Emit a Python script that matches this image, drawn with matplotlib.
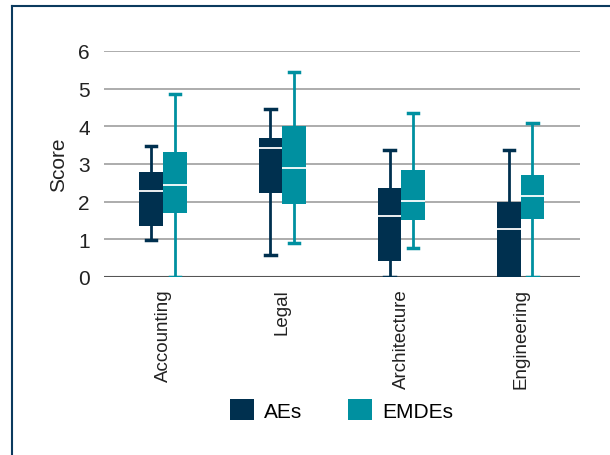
import matplotlib
matplotlib.use("Agg")
import matplotlib.pyplot as plt
from matplotlib.patches import Patch
from matplotlib.lines import Line2D

plt.rcParams['font.family'] = ['Liberation Sans', 'DejaVu Sans']

categories = ["Accounting", "Legal", "Architecture", "Engineering"]
series = ["AEs", "EMDEs"]
colors = {"AEs": "#00304f", "EMDEs": "#0090a0"}

# box stats per category: lower whisker, q1, median, q3, upper whisker
aes_whislo = [0.97, 0.59, 0.0, 0.0]
aes_q1 = [1.35, 2.22, 0.42, 0.0]
aes_med = [2.27, 3.42, 1.61, 1.27]
aes_q3 = [2.78, 3.69, 2.37, 1.99]
aes_whishi = [3.48, 4.47, 3.38, 3.38]

emdes_whislo = [0.0, 0.90, 0.77, 0.0]
emdes_q1 = [1.69, 1.93, 1.52, 1.54]
emdes_med = [2.43, 2.89, 2.03, 2.15]
emdes_q3 = [3.32, 4.01, 2.85, 2.71]
emdes_whishi = [4.86, 5.43, 4.36, 4.10]

yticks = [0, 1, 2, 3, 4, 5, 6]


def make_stats(lo, q1, med, q3, hi):
    return [dict(whislo=a, q1=b, med=c, q3=d, whishi=e, fliers=[])
            for a, b, c, d, e in zip(lo, q1, med, q3, hi)]


fig = plt.figure(figsize=(6.1, 4.56), dpi=100)
ax = fig.add_axes([0.170, 0.3904, 0.781, 0.4956])

groups = [
    ("AEs", make_stats(aes_whislo, aes_q1, aes_med, aes_q3, aes_whishi), -0.1),
    ("EMDEs", make_stats(emdes_whislo, emdes_q1, emdes_med, emdes_q3, emdes_whishi), 0.1),
]
for name, stats, offset in groups:
    c = colors[name]
    ax.bxp(stats, positions=[i + offset for i in range(len(categories))],
           widths=0.2, capwidths=0.085, patch_artist=True, showfliers=False,
           boxprops=dict(facecolor=c, edgecolor=c, linewidth=0),
           whiskerprops=dict(color=c, linewidth=2),
           capprops=dict(color=c, linewidth=2.5),
           medianprops=dict(color="white", linewidth=1.3),
           zorder=3)

ax.set_xlim(-0.5, len(categories) - 0.5)
ax.set_ylim(0, 6)
ax.set_yticks(yticks)
ax.set_xticks(range(len(categories)))
ax.set_xticklabels(categories, rotation=90, fontsize=13.5, color="#222222")
ax.tick_params(axis="y", length=0, pad=10, labelsize=15, labelcolor="#222222")
ax.tick_params(axis="x", length=0, pad=8)
ax.set_ylabel("Score", fontsize=15, color="#222222", labelpad=7)

ax.grid(axis="y", color="#a6a6a6", linewidth=1.3, zorder=0)
ax.set_axisbelow(True)
for s in ax.spines.values():
    s.set_visible(False)
ax.axhline(0, color="#555555", linewidth=1.5, zorder=2)

handles = [Patch(facecolor=colors[s], edgecolor="none", label=s) for s in series]
fig.legend(handles=handles, loc="center", bbox_to_anchor=(0.56, 0.099), ncol=2,
           frameon=False, fontsize=15, handlelength=1.15, handleheight=1.15,
           handletextpad=0.5, columnspacing=2.2)

# panel frame along the left and top edges
fig.add_artist(Line2D([0.0197, 0.0197], [0, 0.984], transform=fig.transFigure,
                      color="#0b3a5e", linewidth=1.5))
fig.add_artist(Line2D([0.0197, 1.0], [0.984, 0.984], transform=fig.transFigure,
                      color="#0b3a5e", linewidth=1.5))

fig.savefig("out.png", dpi=100)
